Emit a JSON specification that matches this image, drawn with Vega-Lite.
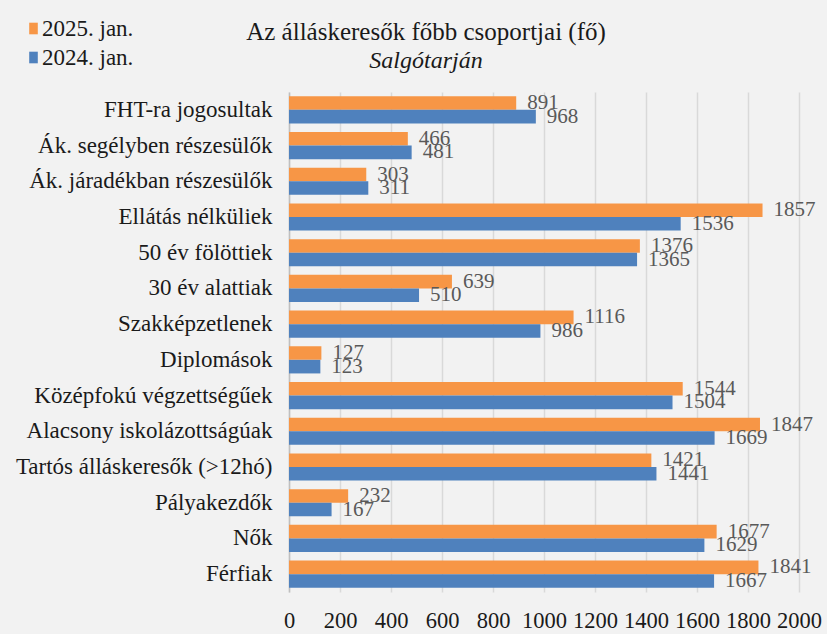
{
  "$schema": "https://vega.github.io/schema/vega-lite/v6.json",
  "width": 510,
  "height": 500,
  "autosize": {"type": "none"},
  "padding": {"left": 289, "top": 92, "right": 28, "bottom": 42},
  "background": "#f2f2f2",
  "config": {
    "view": {"stroke": null},
    "font": "Liberation Serif",
    "axis": {"labelFont": "Liberation Serif"},
    "legend": {"labelFont": "Liberation Serif"}
  },
  "title": {
    "text": "Az álláskeresők főbb csoportjai (fő)",
    "subtitle": "Salgótarján",
    "anchor": "middle",
    "frame": "group",
    "dx": -118,
    "offset": -56,
    "font": "Liberation Serif",
    "fontSize": 25,
    "fontWeight": "normal",
    "color": "#1a1a1a",
    "subtitleFont": "Liberation Serif",
    "subtitleFontSize": 24,
    "subtitleFontStyle": "italic",
    "subtitleColor": "#1a1a1a",
    "subtitlePadding": 4
  },
  "data": {
    "values": [
      {"cat": "FHT-ra jogosultak", "year": "2025. jan.", "v": 891},
      {"cat": "FHT-ra jogosultak", "year": "2024. jan.", "v": 968},
      {"cat": "Ák. segélyben részesülők", "year": "2025. jan.", "v": 466},
      {"cat": "Ák. segélyben részesülők", "year": "2024. jan.", "v": 481},
      {"cat": "Ák. járadékban részesülők", "year": "2025. jan.", "v": 303},
      {"cat": "Ák. járadékban részesülők", "year": "2024. jan.", "v": 311},
      {"cat": "Ellátás nélküliek", "year": "2025. jan.", "v": 1857},
      {"cat": "Ellátás nélküliek", "year": "2024. jan.", "v": 1536},
      {"cat": "50 év fölöttiek", "year": "2025. jan.", "v": 1376},
      {"cat": "50 év fölöttiek", "year": "2024. jan.", "v": 1365},
      {"cat": "30 év alattiak", "year": "2025. jan.", "v": 639},
      {"cat": "30 év alattiak", "year": "2024. jan.", "v": 510},
      {"cat": "Szakképzetlenek", "year": "2025. jan.", "v": 1116},
      {"cat": "Szakképzetlenek", "year": "2024. jan.", "v": 986},
      {"cat": "Diplomások", "year": "2025. jan.", "v": 127},
      {"cat": "Diplomások", "year": "2024. jan.", "v": 123},
      {"cat": "Középfokú végzettségűek", "year": "2025. jan.", "v": 1544},
      {"cat": "Középfokú végzettségűek", "year": "2024. jan.", "v": 1504},
      {"cat": "Alacsony iskolázottságúak", "year": "2025. jan.", "v": 1847},
      {"cat": "Alacsony iskolázottságúak", "year": "2024. jan.", "v": 1669},
      {"cat": "Tartós álláskeresők (>12hó)", "year": "2025. jan.", "v": 1421},
      {"cat": "Tartós álláskeresők (>12hó)", "year": "2024. jan.", "v": 1441},
      {"cat": "Pályakezdők", "year": "2025. jan.", "v": 232},
      {"cat": "Pályakezdők", "year": "2024. jan.", "v": 167},
      {"cat": "Nők", "year": "2025. jan.", "v": 1677},
      {"cat": "Nők", "year": "2024. jan.", "v": 1629},
      {"cat": "Férfiak", "year": "2025. jan.", "v": 1841},
      {"cat": "Férfiak", "year": "2024. jan.", "v": 1667}
    ]
  },
  "encoding": {
    "y": {
      "field": "cat",
      "type": "nominal",
      "sort": null,
      "scale": {"paddingInner": 0.24, "paddingOuter": 0.12},
      "axis": {
        "title": null,
        "ticks": false,
        "domain": true,
        "domainColor": "#bfbfbf",
        "domainWidth": 1.5,
        "labelFont": "Liberation Serif",
        "labelFontSize": 23,
        "labelColor": "#1a1a1a",
        "labelPadding": 17,
        "labelLimit": 400
      }
    },
    "yOffset": {
      "field": "year",
      "type": "nominal",
      "scale": {"domain": ["2025. jan.", "2024. jan."]}
    },
    "x": {
      "field": "v",
      "type": "quantitative",
      "scale": {"domain": [0, 2000], "nice": false},
      "axis": {
        "title": null,
        "values": [0, 200, 400, 600, 800, 1000, 1200, 1400, 1600, 1800, 2000],
        "format": "d",
        "domain": false,
        "ticks": false,
        "grid": true,
        "gridColor": "#d9d9d9",
        "gridWidth": 1.5,
        "labelFont": "Liberation Serif",
        "labelFontSize": 22.5,
        "labelColor": "#1a1a1a",
        "labelPadding": 17,
        "labelOverlap": false,
        "labelFlush": false
      }
    }
  },
  "layer": [
    {
      "mark": {"type": "bar"},
      "encoding": {
        "color": {
          "field": "year",
          "type": "nominal",
          "scale": {"domain": ["2025. jan.", "2024. jan."], "range": ["#f79646", "#4f81bd"]},
          "legend": {
            "title": null,
            "orient": "none",
            "legendX": -267,
            "legendY": -75,
            "symbolType": "M-0.74,-1H0.74V1H-0.74Z",
            "symbolSize": 135,
            "symbolStrokeWidth": 0,
            "labelFont": "Liberation Serif",
            "labelFontSize": 23,
            "labelColor": "#1a1a1a",
            "labelOffset": -3,
            "rowPadding": 5
          }
        }
      }
    },
    {
      "mark": {
        "type": "text",
        "align": "left",
        "baseline": "middle",
        "dx": 11,
        "font": "Liberation Serif",
        "fontSize": 21,
        "color": "#595959"
      },
      "encoding": {"text": {"field": "v", "type": "quantitative"}}
    }
  ]
}
